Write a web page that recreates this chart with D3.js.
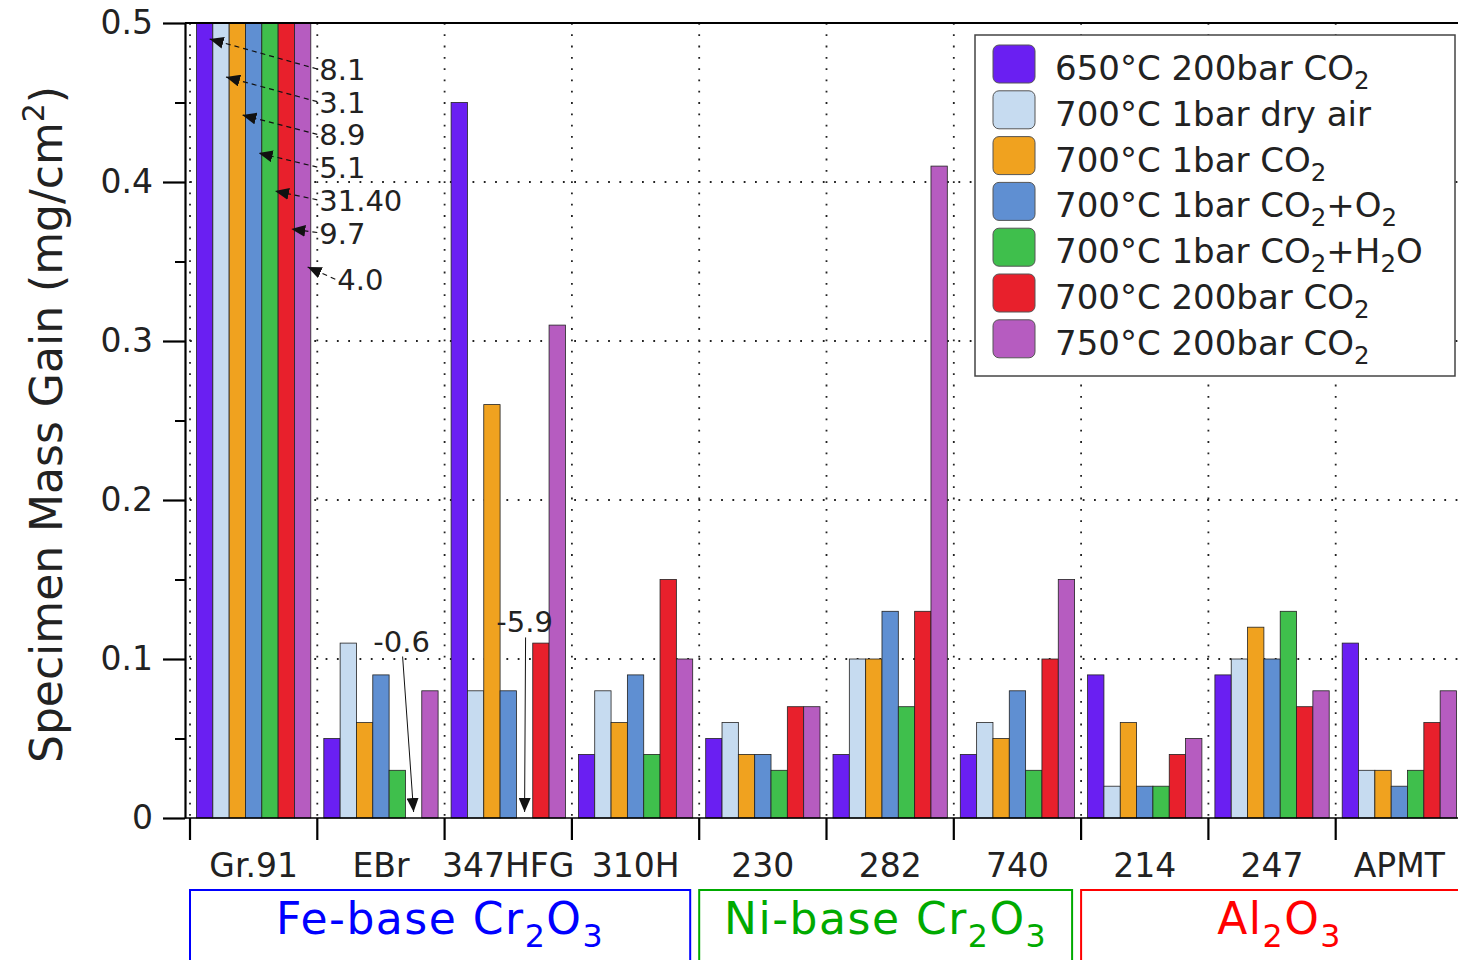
<!DOCTYPE html>
<html>
<head>
<meta charset="utf-8">
<script src="https://cdn.jsdelivr.net/npm/d3@7"></script>
<style>
body { margin: 0; background: #fff; }
svg { display: block; font-family: "DejaVu Sans", sans-serif; }
</style>
</head>
<body>
<div id="chart"></div>
<script>
// alloys (x categories) and test conditions (series)
var alloys = ["Gr.91", "EBr", "347HFG", "310H", "230", "282", "740", "214", "247", "APMT"];
var conditions = ["650°C 200bar CO_{2}", "700°C 1bar dry air", "700°C 1bar CO_{2}", "700°C 1bar CO_{2}+O_{2}",
	"700°C 1bar CO_{2}+H_{2}O", "700°C 200bar CO_{2}", "750°C 200bar CO_{2}"];
var colors = ["#6a1ff2", "#c6dbf0", "#f0a21f", "#5f8fd2", "#3fbf4c", "#e8202c", "#b65cc0"];

// specimen mass gain (mg/cm2), one list per condition, in alloy order
var gain650co2 = [8.1, 0.05, 0.45, 0.04, 0.05, 0.04, 0.04, 0.09, 0.09, 0.11];
var gainAir    = [3.1, 0.11, 0.08, 0.08, 0.06, 0.10, 0.06, 0.02, 0.10, 0.03];
var gain1co2   = [8.9, 0.06, 0.26, 0.06, 0.04, 0.10, 0.05, 0.06, 0.12, 0.03];
var gainO2     = [5.1, 0.09, 0.08, 0.09, 0.04, 0.13, 0.08, 0.02, 0.10, 0.02];
var gainH2O    = [31.40, 0.03, -5.9, 0.04, 0.03, 0.07, 0.03, 0.02, 0.13, 0.03];
var gain700co2 = [9.7, -0.6, 0.11, 0.15, 0.07, 0.13, 0.10, 0.04, 0.07, 0.06];
var gain750co2 = [4.0, 0.08, 0.31, 0.10, 0.07, 0.41, 0.15, 0.05, 0.08, 0.08];
var series = [gain650co2, gainAir, gain1co2, gainO2, gainH2O, gain700co2, gain750co2];

// labels written next to the off-scale Gr.91 bars
var offScaleText = ["8.1", "3.1", "8.9", "5.1", "31.40", "9.7", "4.0"];

var yTicks = [0, 0.1, 0.2, 0.3, 0.4, 0.5];
var yMinorTicks = [0.05, 0.15, 0.25, 0.35, 0.45];

// oxide families under the alloy names
var families = [
	{ name: "Fe-base Cr_{2}O_{3}", from: "Gr.91", to: "310H", color: "#0000ff" },
	{ name: "Ni-base Cr_{2}O_{3}", from: "230", to: "740", color: "#00aa00" },
	{ name: "Al_{2}O_{3}", from: "214", to: "APMT", color: "#ff0000" }
];

var W = 1458, H = 960;
var svg = d3.select("#chart").append("svg").attr("width", W).attr("height", H);

var x = d3.scaleBand().domain(alloys).range([190, 190 + 127.3 * alloys.length]);
var xs = d3.scaleBand().domain(d3.range(series.length)).range([6.5, x.bandwidth() - 6.5]);
var y = d3.scaleLinear().domain([0, 0.5]).range([818, 23]);
var yMax = 0.5;

// write "CO_{2}" style text with sub/superscripts into a text element
function richText(sel, str, subSize, shift) {
	var parts = str.split(/(_\{[^}]*\}|\^\{[^}]*\})/);
	var cur = 0;
	parts.forEach(function(p) {
		if (!p) return;
		var off = 0, size = null, t = p;
		if (p[0] == "_" && p[1] == "{") { off = shift; size = subSize; t = p.slice(2, -1); }
		else if (p[0] == "^" && p[1] == "{") { off = -shift; size = subSize; t = p.slice(2, -1); }
		var ts = sel.append("tspan").attr("dy", off - cur).text(t);
		if (size) ts.attr("font-size", size + "em");
		cur = off;
	});
}

// dotted grid
var grid = svg.append("g").attr("stroke", "#222").attr("stroke-width", 1.8).attr("stroke-dasharray", "1.8,9.5");
grid.selectAll(null).data([0.1, 0.2, 0.3, 0.4]).enter().append("line")
	.attr("x1", x.range()[0]).attr("x2", W).attr("y1", function(d) { return y(d); }).attr("y2", function(d) { return y(d); });
grid.selectAll(null).data(alloys).enter().append("line")
	.attr("x1", function(d) { return x(d); }).attr("x2", function(d) { return x(d); })
	.attr("y1", y(yMax)).attr("y2", y(0));

// bars
var barG = svg.append("g");
series.forEach(function(vals, si) {
	var rows = vals.map(function(v, i) { return { alloy: alloys[i], v: v }; }).filter(function(d) { return d.v > 0; });
	barG.selectAll(null).data(rows).enter().append("rect")
		.attr("x", function(d) { return x(d.alloy) + xs(si); })
		.attr("y", function(d) { return y(Math.min(d.v, yMax)); })
		.attr("width", xs.bandwidth())
		.attr("height", function(d) { return y(0) - y(Math.min(d.v, yMax)); })
		.attr("fill", colors[si])
		.attr("stroke", "#222").attr("stroke-width", 0.8);
});

// frame lines
svg.append("line").attr("x1", 185).attr("x2", W).attr("y1", y(yMax)).attr("y2", y(yMax)).attr("stroke", "#000").attr("stroke-width", 2);
svg.append("line").attr("x1", 185).attr("x2", W).attr("y1", y(0)).attr("y2", y(0)).attr("stroke", "#000").attr("stroke-width", 1.5);

// y axis
var yAxis = svg.append("g").attr("transform", "translate(185,0)")
	.call(d3.axisLeft(y).tickValues(yTicks).tickSize(22).tickSizeOuter(0).tickPadding(10)
		.tickFormat(function(d) { return d === 0 ? "0" : d3.format(".1f")(d); }));
yAxis.attr("font-family", "DejaVu Sans").attr("font-size", 33);
yAxis.select(".domain").attr("stroke-width", 2.2);
yAxis.selectAll(".tick line").attr("stroke-width", 2.2);
yAxis.selectAll(".tick text").attr("fill", "#222");
var yMinor = svg.append("g").attr("transform", "translate(185,0)")
	.call(d3.axisLeft(y).tickValues(yMinorTicks).tickSize(10).tickSizeOuter(0).tickFormat(""));
yMinor.select(".domain").remove();
yMinor.selectAll(".tick line").attr("stroke-width", 2);

svg.append("text")
	.attr("transform", "translate(62," + ((y(0) + y(yMax)) / 2 + 4) + ") rotate(-90)")
	.attr("text-anchor", "middle").attr("font-size", 44).attr("fill", "#222")
	.call(richText, "Specimen Mass Gain (mg/cm^{2})", 0.68, 18);

// x axis: ticks at the band edges, names in the middle
svg.append("g").selectAll("line").data(alloys).enter().append("line")
	.attr("x1", function(d) { return x(d); }).attr("x2", function(d) { return x(d); })
	.attr("y1", y(0)).attr("y2", y(0) + 22)
	.attr("stroke", "#000").attr("stroke-width", 2.2);
svg.append("g").selectAll("text").data(alloys).enter().append("text")
	.attr("x", function(d) { return x(d) + x.bandwidth() / 2; })
	.attr("y", 877)
	.attr("text-anchor", "middle").attr("font-size", 33).attr("fill", "#222")
	.text(function(d) { return d; });

// family boxes
families.forEach(function(f, k) {
	var x0 = x(f.from);
	var x1 = k < families.length - 1 ? x(f.to) + x.bandwidth() - 9 : W + 20;
	svg.append("rect").attr("x", x0).attr("y", 890).attr("width", x1 - x0).attr("height", 100)
		.attr("fill", "none").attr("stroke", f.color).attr("stroke-width", 2);
	svg.append("text").attr("x", (x0 + x1) / 2).attr("y", 934)
		.attr("text-anchor", "middle").attr("font-size", 44).attr("letter-spacing", 1.5)
		.attr("fill", f.color)
		.call(richText, f.name, 0.72, 13);
});

// arrow heads
var defs = svg.append("defs");
defs.append("marker").attr("id", "head").attr("viewBox", "0 0 14 12")
	.attr("refX", 14).attr("refY", 6).attr("markerWidth", 14).attr("markerHeight", 12)
	.attr("markerUnits", "userSpaceOnUse").attr("orient", "auto")
	.append("path").attr("d", "M0,0 L14,6 L0,12 Z").attr("fill", "#111");

// off-scale Gr.91 values
var gr = alloys[0];
var notes = svg.append("g");
series.forEach(function(vals, si) {
	if (vals[0] <= yMax) return;
	var last = si == series.length - 1;
	var ty = y(yMax) + 46 + 32.7 * si + (last ? 14 : 0);
	var tx = x(gr) + x.bandwidth() + 2 + (last ? 18 : 0);
	var hx = x(gr) + xs(si) + xs.bandwidth() / 2 + 5;
	var hy = y(yMax) + 16 + 38 * si;
	notes.append("line").attr("x1", tx - 2).attr("y1", ty).attr("x2", hx).attr("y2", hy)
		.attr("stroke", "#111").attr("stroke-width", 1.2).attr("stroke-dasharray", "5,4")
		.attr("marker-end", "url(#head)");
	notes.append("text").attr("x", tx).attr("y", ty + 11).attr("font-size", 29).attr("fill", "#222")
		.text(offScaleText[si]);
});

// negative values: label with an arrow pointing down to the axis
var negShift = { "EBr": -12, "347HFG": 0 };
var negLevel = { "EBr": 0.111, "347HFG": 0.123 };
series.forEach(function(vals, si) {
	vals.forEach(function(v, i) {
		if (v >= 0) return;
		var a = alloys[i];
		var cx = x(a) + xs(si) + xs.bandwidth() / 2;
		var lx = cx + negShift[a];
		var ly = y(negLevel[a]);
		notes.append("text").attr("x", lx).attr("y", ly + 10).attr("text-anchor", "middle")
			.attr("font-size", 29).attr("fill", "#222").text(d3.format(".1f")(v).replace("−", "-"));
		notes.append("line").attr("x1", lx + 1).attr("y1", ly + 15).attr("x2", cx).attr("y2", y(0) - 6)
			.attr("stroke", "#111").attr("stroke-width", 1).attr("marker-end", "url(#head)");
	});
});

// legend
var lg = svg.append("g");
lg.append("rect").attr("x", 975).attr("y", 35).attr("width", 480).attr("height", 341)
	.attr("fill", "#fff").attr("stroke", "#444").attr("stroke-width", 1.5);
conditions.forEach(function(c, i) {
	lg.append("rect").attr("x", 993).attr("y", 45 + 45.8 * i).attr("width", 42).attr("height", 38)
		.attr("rx", 6).attr("fill", colors[i]).attr("stroke", "#555").attr("stroke-width", 1);
	lg.append("text").attr("x", 1055).attr("y", 80 + 45.8 * i).attr("font-size", 34).attr("fill", "#222")
		.call(richText, c, 0.72, 9);
});
</script>
</body>
</html>
